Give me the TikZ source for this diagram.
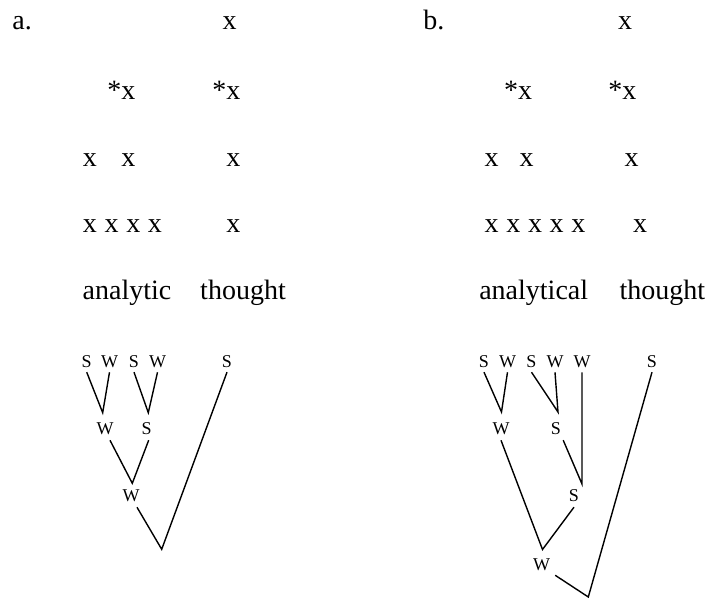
\documentclass[tikz,border=0pt]{standalone}
\usepackage{fontspec}
\setmainfont{Liberation Serif}
\tikzset{
  gridmark/.style={anchor=base,inner sep=0pt,font=\fontsize{14}{16}\selectfont},
  wordlab/.style={anchor=base,inner sep=0pt,font=\fontsize{14}{16}\selectfont},
  treelab/.style={anchor=base,inner sep=2.3pt,font=\fontsize{9}{11}\selectfont},
  branch/.style={line width=0.7pt}
}
\begin{document}
\begin{tikzpicture}[x=0.5pt,y=-0.5pt]
  \useasboundingbox (0,0) rectangle (709,605);
  % (a) analytic thought
  \node[wordlab,anchor=base west] (tagA) at (12,30) {a.};
  \node[gridmark] (a11) at (229.5,30) {x};
  \node[gridmark] (a21) at (121.3,99.5) {*x};
  \node[gridmark] (a22) at (226.3,99.5) {*x};
  \node[gridmark] (a31) at (90,166.5) {x};
  \node[gridmark] (a32) at (128.3,166.5) {x};
  \node[gridmark] (a33) at (233.3,166.5) {x};
  \node[gridmark] (a41) at (90,233) {x};
  \node[gridmark] (a42) at (111.7,233) {x};
  \node[gridmark] (a43) at (133.3,233) {x};
  \node[gridmark] (a44) at (155,233) {x};
  \node[gridmark] (a45) at (233.3,233) {x};
  \node[wordlab] (wordA1) at (127,299.5) {analytic};
  \node[wordlab] (wordA2) at (243,299.5) {thought};
  \node[treelab] (sa1) at (86.7,367) {S};
  \node[treelab] (wa1) at (109.5,367) {W};
  \node[treelab] (sa2) at (134,367) {S};
  \node[treelab] (wa2) at (157.5,367) {W};
  \node[treelab] (sa3) at (227,367) {S};
  \node[treelab] (wa3) at (105,435) {W};
  \node[treelab] (sa4) at (146.7,435) {S};
  \node[treelab] (wa4) at (131,502) {W};
  \coordinate (ja1) at (102.7,412.7);
  \coordinate (ja2) at (148.3,412.7);
  \coordinate (ja3) at (132.3,483.3);
  \coordinate (ja4) at (161.7,549.3);
  \draw[branch] (sa1.south) -- (ja1) -- (wa1.south);
  \draw[branch] (sa2.south) -- (ja2) -- (wa2.south);
  \draw[branch] ([xshift=2.5pt]wa3.south) -- (ja3) -- ([xshift=1pt]sa4.south);
  \draw[branch] ([xshift=3pt]wa4.south) -- (ja4) -- (sa3.south);
  % (b) analytical thought
  \node[wordlab,anchor=base west] (tagB) at (423,30) {b.};
  \node[gridmark] (b11) at (625,30) {x};
  \node[gridmark] (b21) at (518,99.5) {*x};
  \node[gridmark] (b22) at (622.3,99.5) {*x};
  \node[gridmark] (b31) at (491.7,166.5) {x};
  \node[gridmark] (b32) at (526.7,166.5) {x};
  \node[gridmark] (b33) at (631.7,166.5) {x};
  \node[gridmark] (b41) at (491.7,233) {x};
  \node[gridmark] (b42) at (513.3,233) {x};
  \node[gridmark] (b43) at (535,233) {x};
  \node[gridmark] (b44) at (556.7,233) {x};
  \node[gridmark] (b45) at (578.3,233) {x};
  \node[gridmark] (b46) at (640,233) {x};
  \node[wordlab] (wordB1) at (533.7,299.5) {analytical};
  \node[wordlab] (wordB2) at (662.3,299.5) {thought};
  \node[treelab] (sb1) at (484,367) {S};
  \node[treelab] (wb1) at (507.5,367) {W};
  \node[treelab] (sb2) at (531.5,367) {S};
  \node[treelab] (wb2) at (555,367) {W};
  \node[treelab] (wb3) at (582,367) {W};
  \node[treelab] (sb3) at (652,367) {S};
  \node[treelab] (wb4) at (501,435) {W};
  \node[treelab] (sb4) at (556,435) {S};
  \node[treelab] (sb5) at (574,502) {S};
  \node[treelab] (wb5) at (541.7,570) {W};
  \coordinate (jb1) at (501.5,412);
  \coordinate (jb2) at (558,412);
  \coordinate (jb3) at (582,484);
  \coordinate (jb4) at (542.5,549.5);
  \coordinate (jb5) at (588.3,597);
  \draw[branch] (sb1.south) -- (jb1) -- (wb1.south);
  \draw[branch] (sb2.south) -- (jb2) -- (wb2.south);
  \draw[branch] (wb3.south) -- (jb3) -- ([xshift=3.6pt]sb4.south);
  \draw[branch] (wb4.south) -- (jb4) -- (sb5.south);
  \draw[branch] (wb5.south east) -- (jb5) -- (sb3.south);
\end{tikzpicture}
\end{document}
